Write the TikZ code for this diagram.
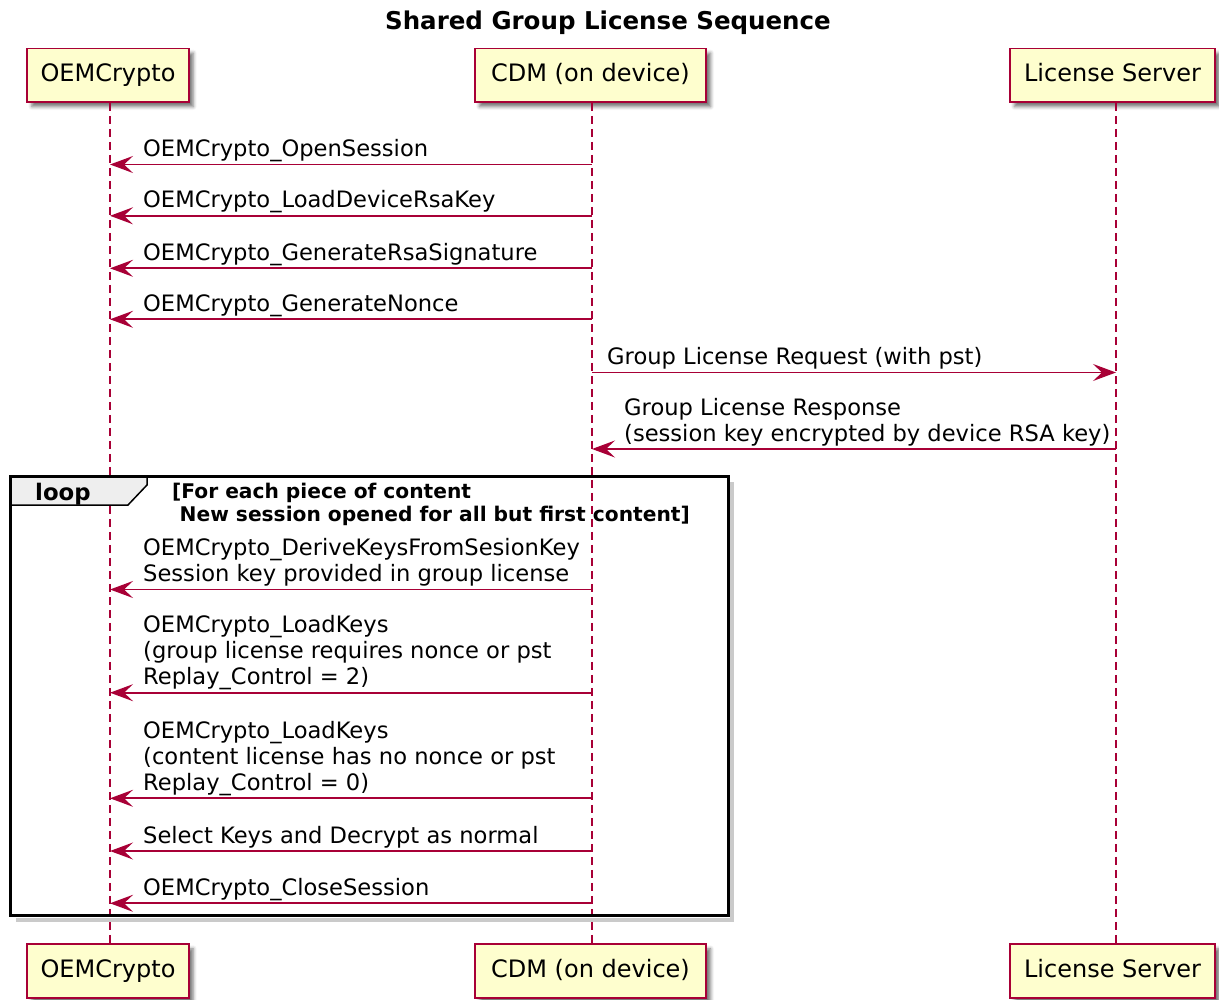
\documentclass[tikz,border=0pt]{standalone}
\usepackage{fontspec}
\setmainfont{DejaVu Sans}
\usetikzlibrary{arrows.meta,shadows.blur}

\definecolor{seqred}{HTML}{A80036}
\definecolor{seqfill}{HTML}{FEFECE}
\definecolor{tabgray}{HTML}{EEEEEE}

\newcommand\msgfont{\fontsize{22.6}{26}\selectfont}
\newcommand\partfont{\fontsize{24}{28}\selectfont}
\newcommand\titlefont{\bfseries\fontsize{24.5}{28}\selectfont}
\newcommand\loopfont{\bfseries\fontsize{22.8}{26}\selectfont}
\newcommand\guardfont{\bfseries\fontsize{20.2}{23.5}\selectfont}

\tikzset{
  participant/.style={draw=seqred, line width=1.7pt, fill=seqfill,
    minimum height=53.5pt, inner sep=0pt, font=\partfont,
    text height=18pt, text depth=5pt,
    blur shadow={shadow xshift=4.5pt, shadow yshift=-4.5pt,
      shadow blur radius=3.5pt, shadow opacity=55}},
  lifeline/.style={draw=seqred, line width=1.5pt, dash pattern=on 8pt off 5pt},
  msg/.style={draw=seqred, line width=1.7pt,
    -{Stealth[length=23pt,width=17pt,inset=9pt]}},
  msglabel/.style={anchor=base west, inner sep=0pt, align=left, font=\msgfont},
  loopframe/.style={draw=black, line width=3pt},
  looptab/.style={draw=black, line width=1.5pt, fill=tabgray},
  frameshadow/.style={draw=black!35, line width=4pt, opacity=0.6},
}

\begin{document}
\begin{tikzpicture}[x=1pt,y=-1pt]
\useasboundingbox (0,0) rectangle (1219,1000);

% title
\node[anchor=base, inner sep=0pt, font=\titlefont] (title) at (608,29.5)
  {Shared Group License Sequence};

% lifeline positions
\coordinate (Lo) at (110,0);
\coordinate (Lc) at (592,0);
\coordinate (Ls) at (1116,0);

% participants, head and foot
\node[participant, minimum width=161.4pt] (oemT) at (108,75.3) {OEMCrypto};
\node[participant, minimum width=231pt]   (cdmT) at (590.5,75.3) {CDM (on device)};
\node[participant, minimum width=205pt]   (lsT)  at (1112.5,75.3) {License Server};
\node[participant, minimum width=161.4pt] (oemB) at (108,971) {OEMCrypto};
\node[participant, minimum width=231pt]   (cdmB) at (590.5,971) {CDM (on device)};
\node[participant, minimum width=205pt]   (lsB)  at (1112.5,971) {License Server};

% lifelines
\draw[lifeline] (oemT.south -| Lo) -- (oemB.north -| Lo);
\draw[lifeline] (cdmT.south -| Lc) -- (cdmB.north -| Lc);
\draw[lifeline] (lsT.south -| Ls) -- (lsB.north -| Ls);

% loop fragment
\draw[frameshadow] (732,482) -- (732,919.5) -- (16,919.5);
\draw[looptab] (10,476) -- (147,476) -- (147,485) -- (128,505) -- (10,505) -- cycle;
\draw[loopframe] (10,476) rectangle (728,915.5);
\node[anchor=base west, inner sep=0pt, font=\loopfont] (looplbl) at (35,500.7) {loop};
\node[anchor=base west, inner sep=0pt, font=\guardfont, align=left] (guard) at (172,521.5)
  {[For each piece of content\\\hspace*{7.5pt}New session opened for all but first content]};

% messages (label baseline sits 8 above its arrow)
\draw[msg] (Lc |- 0,164.5) -- (Lo |- 0,164.5);
\node[msglabel] (m1) at (143,156.5) {OEMCrypto\_OpenSession};

\draw[msg] (Lc |- 0,215.8) -- (Lo |- 0,215.8);
\node[msglabel] (m2) at (143,207.8) {OEMCrypto\_LoadDeviceRsaKey};

\draw[msg] (Lc |- 0,268.3) -- (Lo |- 0,268.3);
\node[msglabel] (m3) at (143,260.3) {OEMCrypto\_GenerateRsaSignature};

\draw[msg] (Lc |- 0,319.3) -- (Lo |- 0,319.3);
\node[msglabel] (m4) at (143,311.3) {OEMCrypto\_GenerateNonce};

\draw[msg] (Lc |- 0,372.5) -- (Ls |- 0,372.5);
\node[msglabel] (m5) at (607,364.5) {Group License Request (with pst)};

\draw[msg] (Ls |- 0,449) -- (Lc |- 0,449);
\node[msglabel] (m6) at (624,441) {Group License Response\\(session key encrypted by device RSA key)};

\draw[msg] (Lc |- 0,589.5) -- (Lo |- 0,589.5);
\node[msglabel] (m7) at (143,581.5) {OEMCrypto\_DeriveKeysFromSesionKey\\Session key provided in group license};

\draw[msg] (Lc |- 0,692.7) -- (Lo |- 0,692.7);
\node[msglabel] (m8) at (143,684.7) {OEMCrypto\_LoadKeys\\(group license requires nonce or pst\\Replay\_Control = 2)};

\draw[msg] (Lc |- 0,798.3) -- (Lo |- 0,798.3);
\node[msglabel] (m9) at (143,790.3) {OEMCrypto\_LoadKeys\\(content license has no nonce or pst\\Replay\_Control = 0)};

\draw[msg] (Lc |- 0,851) -- (Lo |- 0,851);
\node[msglabel] (m10) at (143,843) {Select Keys and Decrypt as normal};

\draw[msg] (Lc |- 0,903.3) -- (Lo |- 0,903.3);
\node[msglabel] (m11) at (143,895.3) {OEMCrypto\_CloseSession};

\end{tikzpicture}
\end{document}
